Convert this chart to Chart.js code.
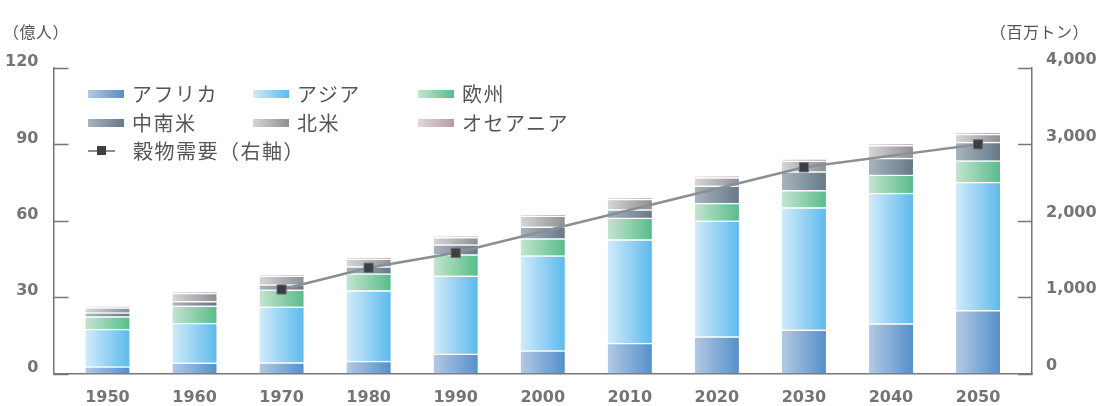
<!DOCTYPE html>
<html>
<head>
<meta charset="utf-8">
<script src="https://cdn.jsdelivr.net/npm/chart.js@4"></script>
<style>
  body { margin:0; background:#fff; }
  #wrap { position:relative; width:1100px; height:406px; font-family:"Noto Sans CJK JP", sans-serif; color:#555; }
  canvas { position:absolute; left:0; top:0; }
  .unit { position:absolute; top:19px; font-size:16px; letter-spacing:0.5px; }
  #legend { position:absolute; left:88px; top:80px; font-size:20px; line-height:28.5px; color:#555; letter-spacing:1.5px; }
  .row { display:flex; height:28.5px; }
  .item { display:flex; align-items:center; width:165px; white-space:nowrap; }
  .sw { width:36px; height:8px; margin-right:8px; }
  .ln { width:27px; height:2px; background:#8a8f94; margin-right:18px; position:relative; }
  .ln i { position:absolute; left:9px; top:-4px; width:9px; height:9px; background:#3b3e42; }
</style>
</head>
<body>
<div id="wrap">
  <canvas id="myChart" width="1100" height="406"></canvas>
  <div class="unit" style="left:3px">（億人）</div>
  <div class="unit" style="left:990px">（百万トン）</div>
  <div id="legend"></div>
</div>
<script>
const years = [1950,1960,1970,1980,1990,2000,2010,2020,2030,2040,2050]
const africa  = [2.7,4.2,4.3,4.9,7.7,9.0,11.9,14.5,17.2,19.6,24.8]
const asia    = [14.7,15.6,21.9,27.7,30.7,37.3,40.7,45.5,48.0,51.3,50.4]
const europe  = [5.0,6.8,6.7,6.6,8.3,6.7,8.5,6.9,6.7,7.1,8.4]
const latam   = [1.5,1.7,2.0,2.8,3.9,4.6,3.3,6.8,7.4,6.6,7.3]
const namerica= [2.0,3.3,3.5,3.0,2.9,4.3,4.1,3.3,4.2,5.0,3.1]
const oceania = [0.4,0.4,0.4,0.4,0.4,0.5,0.5,0.5,0.6,0.6,0.6]
const grainYears = [1970,1980,1990,2030,2050]
const grain      = [1100,1385,1580,2700,3000]
const leftTicks = [0,30,60,90,120]
const rightTicks = [0,1000,2000,3000,4000]

const regions = [
  {label:'アフリカ', data:africa, c:['#b3c9e3','#5690cb']},
  {label:'アジア', data:asia, c:['#d2ebf9','#5dbaee']},
  {label:'欧州', data:europe, c:['#c4e4d0','#58bd8a']},
  {label:'中南米', data:latam, c:['#a9b4bd','#66798a']},
  {label:'北米', data:namerica, c:['#d6d6d6','#8d9094']},
  {label:'オセアニア', data:oceania, c:['#e2d6dc','#b49ca8']}
]

const BAR_W = 44

function barGrad(c){
  return (ctx)=>{
    const chart = ctx.chart
    const xs = chart.scales.x
    if(!xs || ctx.dataIndex === undefined) return c[1]
    const cx = xs.getPixelForValue(years[ctx.dataIndex])
    if(!isFinite(cx)) return c[1]
    const g = chart.ctx.createLinearGradient(cx - BAR_W/2, 0, cx + BAR_W/2, 0)
    g.addColorStop(0, c[0])
    g.addColorStop(1, c[1])
    return g
  }
}

const datasets = regions.map((r)=>({
  type:'bar',
  label:r.label,
  data:years.map((y,i)=>({x:y, y:r.data[i]})),
  backgroundColor:barGrad(r.c),
  borderColor:'rgba(255,255,255,0.85)',
  borderWidth:{top:1.5,left:0,right:0,bottom:0},
  borderSkipped:'start',
  barThickness:BAR_W,
  yAxisID:'y',
  stack:'pop',
  order:2
}))

datasets.push({
  type:'line',
  label:'穀物需要（右軸）',
  data:grainYears.map((y,i)=>({x:y, y:grain[i]})),
  borderColor:'#8a8f94',
  borderWidth:2.5,
  pointStyle:'rect',
  pointRadius:6.5,
  pointBackgroundColor:'#3b3e42',
  pointBorderColor:'#6a6e72',
  pointBorderWidth:1,
  yAxisID:'y2',
  order:1
})

// tick marks drawn inward from the axis lines
const innerTicks = {
  id:'innerTicks',
  afterDraw(chart){
    const c = chart.ctx
    const a = chart.chartArea
    c.save()
    c.strokeStyle = '#777'
    c.lineWidth = 1.5
    chart.scales.y.ticks.forEach(t=>{
      const py = Math.round(chart.scales.y.getPixelForValue(t.value)) + 0.5
      c.beginPath(); c.moveTo(a.left, py); c.lineTo(a.left + 15, py); c.stroke()
    })
    chart.scales.y2.ticks.forEach(t=>{
      const py = Math.round(chart.scales.y2.getPixelForValue(t.value)) + 0.5
      c.beginPath(); c.moveTo(a.right, py); c.lineTo(a.right - 14, py); c.stroke()
    })
    c.restore()
  }
}

const tickFont = {family:'"DejaVu Sans", sans-serif', size:16, weight:'bold'}
const tickColor = '#747474'

new Chart(document.getElementById('myChart'), {
  data:{datasets},
  plugins:[innerTicks],
  options:{
    responsive:false,
    animation:false,
    layout:{padding:{top:68, left:0, right:0, bottom:0}},
    plugins:{legend:{display:false}, tooltip:{enabled:false}},
    scales:{
      x:{
        type:'linear',
        stacked:true,
        offset:false,
        min:1943.8,
        max:2056.2,
        afterBuildTicks:(s)=>{ s.ticks = years.map(v=>({value:v})) },
        afterFit:(s)=>{ s.height = 32.5 },
        grid:{display:false},
        border:{display:true, color:'#777', width:1.5},
        ticks:{color:tickColor, font:tickFont, padding:7, autoSkip:false, maxRotation:0, callback:(v)=>String(v)}
      },
      y:{
        position:'left',
        stacked:true,
        min:0, max:120,
        afterBuildTicks:(s)=>{ s.ticks = leftTicks.map(v=>({value:v})) },
        afterFit:(s)=>{ s.width = 53.5 },
        grid:{display:false},
        border:{display:true, color:'#777', width:1.5},
        ticks:{color:tickColor, font:tickFont, padding:7, labelOffset:-6}
      },
      y2:{
        position:'right',
        min:0, max:4000,
        afterBuildTicks:(s)=>{ s.ticks = rightTicks.map(v=>({value:v})) },
        afterFit:(s)=>{ s.width = 68 },
        grid:{display:false},
        border:{display:true, color:'#777', width:1.5},
        ticks:{color:tickColor, font:tickFont, padding:6, labelOffset:-8, callback:(v)=>v.toLocaleString('en-US')}
      }
    }
  }
})

// html legend, three columns like the original
const legend = document.getElementById('legend')
let html = ''
for(let r=0;r<2;r++){
  html += '<div class="row">'
  for(let k=0;k<3;k++){
    const it = regions[r*3+k]
    html += `<div class="item"><span class="sw" style="background:linear-gradient(to right, ${it.c[0]}, ${it.c[1]})"></span>${it.label}</div>`
  }
  html += '</div>'
}
html += '<div class="row"><div class="item" style="width:300px"><span class="ln"><i></i></span>穀物需要（右軸）</div></div>'
legend.innerHTML = html
</script>
</body>
</html>
